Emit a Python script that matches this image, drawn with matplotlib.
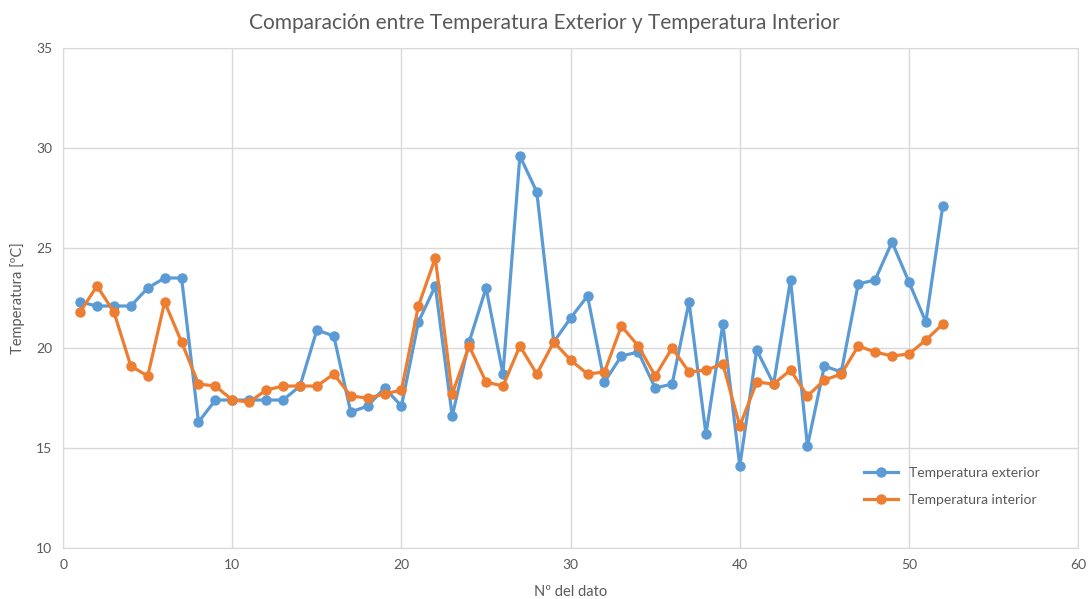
import matplotlib.pyplot as plt

plt.rcParams['font.family'] = ['Lato', 'DejaVu Sans']

# Nº del dato
n = list(range(1, 53))

t_ext = [22.3, 22.1, 22.1, 22.1, 23.0, 23.5, 23.5, 16.3, 17.4, 17.4,
         17.4, 17.4, 17.4, 18.1, 20.9, 20.6, 16.8, 17.1, 18.0, 17.1,
         21.3, 23.1, 16.6, 20.3, 23.0, 18.7, 29.6, 27.8, 20.3, 21.5,
         22.6, 18.3, 19.6, 19.8, 18.0, 18.2, 22.3, 15.7, 21.2, 14.1,
         19.9, 18.2, 23.4, 15.1, 19.1, 18.8, 23.2, 23.4, 25.3, 23.3,
         21.3, 27.1]

t_int = [21.8, 23.1, 21.8, 19.1, 18.6, 22.3, 20.3, 18.2, 18.1, 17.4,
         17.3, 17.9, 18.1, 18.1, 18.1, 18.7, 17.6, 17.5, 17.7, 17.9,
         22.1, 24.5, 17.7, 20.1, 18.3, 18.1, 20.1, 18.7, 20.3, 19.4,
         18.7, 18.8, 21.1, 20.1, 18.6, 20.0, 18.8, 18.9, 19.2, 16.1,
         18.3, 18.2, 18.9, 17.6, 18.4, 18.7, 20.1, 19.8, 19.6, 19.7,
         20.4, 21.2]

fig = plt.figure(figsize=(10.89, 5.99), dpi=100)
ax = fig.add_axes([0.058, 0.085, 0.932, 0.835])

ax.plot(n, t_ext, '-o', color='#5B9BD5', linewidth=2.3, markersize=6.5, label='Temperatura exterior')
ax.plot(n, t_int, '-o', color='#ED7D31', linewidth=2.3, markersize=6.5, label='Temperatura interior')

ax.set_xlim(0, 60)
ax.set_ylim(10, 35)
ax.set_xticks(range(0, 61, 10))
ax.set_yticks(range(10, 36, 5))
ax.grid(True, color='#D9D9D9', linewidth=1)
ax.set_axisbelow(True)
for s in ax.spines.values():
    s.set_color('#D9D9D9')
ax.tick_params(length=0, labelsize=10, colors='#595959', pad=8)

ax.set_xlabel('Nº del dato', fontsize=10.5, color='#595959', labelpad=10)
ax.set_ylabel('Temperatura [ºC]', fontsize=10.5, color='#595959', labelpad=8)
fig.suptitle('Comparación entre Temperatura Exterior y Temperatura Interior',
             fontsize=15, color='#595959', y=0.978)

ax.legend(loc='lower right', bbox_to_anchor=(0.975, 0.06), frameon=False,
          fontsize=10, labelcolor='#595959', handlelength=2.5, labelspacing=1.05)

fig.savefig('out.png')
